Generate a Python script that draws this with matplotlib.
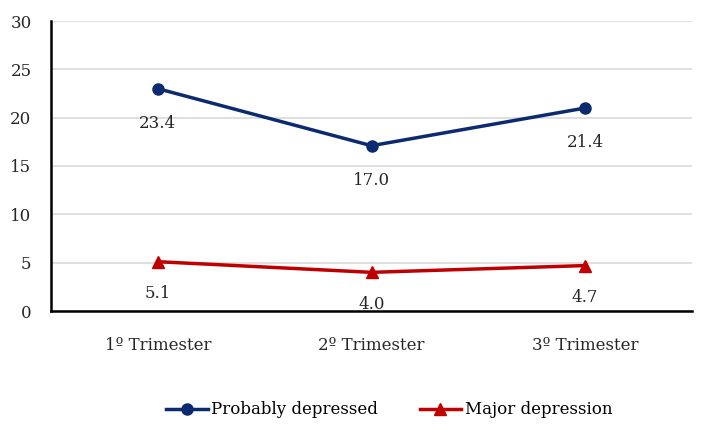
import matplotlib.pyplot as plt
import numpy as np

categories = ["1º Trimester", "2º Trimester", "3º Trimester"]
probably_depressed = [23.0, 17.1, 21.0]
probably_labels = ["23.4", "17.0", "21.4"]
major_depression = [5.1, 4.0, 4.7]
major_labels = ["5.1", "4.0", "4.7"]

plt.rcParams['font.family'] = ['DejaVu Serif']

fig = plt.figure(figsize=(7.05, 4.32), dpi=100)
ax = fig.add_axes([51/705, 1 - 311/432, 641/705, 290/432])

x = np.arange(len(categories))
ax.plot(x, probably_depressed, color="#0b2a6f", lw=2.5, marker="o", ms=8,
        label="Probably depressed", zorder=3)
ax.plot(x, major_depression, color="#c00000", lw=2.5, marker="^", ms=9,
        label="Major depression", zorder=3)

for xi, yi, t in zip(x, probably_depressed, probably_labels):
    ax.annotate(t, (xi, yi), xytext=(0, -25), textcoords="offset points",
                ha="center", va="center", fontsize=12, color="#262626")
for xi, yi, t in zip(x, major_depression, major_labels):
    ax.annotate(t, (xi, yi), xytext=(0, -23), textcoords="offset points",
                ha="center", va="center", fontsize=12, color="#262626")

ax.set_xlim(-0.5, 2.5)
ax.set_ylim(0, 30)
ax.set_yticks(range(0, 31, 5))
ax.set_xticks(x)
ax.set_xticklabels(categories)
ax.yaxis.grid(True, color="#d9d9d9", lw=1.2)
ax.set_axisbelow(True)
for s in ["top", "right"]:
    ax.spines[s].set_visible(False)
ax.spines["left"].set_linewidth(1.8)
ax.spines["bottom"].set_linewidth(1.8)
ax.tick_params(axis="both", length=0, labelsize=12, colors="#262626")
ax.tick_params(axis="x", pad=19)
ax.tick_params(axis="y", pad=14)

fig.legend(loc="center", bbox_to_anchor=(389/705, 1 - 410/432), ncol=2,
           frameon=False, fontsize=12, handlelength=2.5, columnspacing=2.5,
           handletextpad=0.2)

fig.savefig("out.png", dpi=100)
